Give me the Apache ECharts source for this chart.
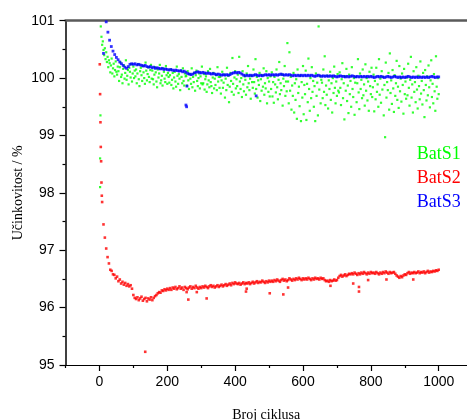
<!DOCTYPE html>
<html><head><meta charset="utf-8">
<script src="https://cdn.jsdelivr.net/npm/echarts@6/dist/echarts.min.js"></script>
<style>html,body{margin:0;padding:0;background:#fff}#c{width:467px;height:420px}</style>
</head><body><div id="c"></div>
<script>
// ---- names & ticks ----
const seriesNames = ['BatS1', 'BatS2', 'BatS3'];
const xMajorTicks = [0, 200, 400, 600, 800, 1000];
const xMinorTicks = [-100, 100, 300, 500, 700, 900];
const xAxisTitle = 'Broj ciklusa';
const yAxisTitle = 'Učinkovitost / %';

// ---- BatS1 (green) ----
const greenEarlyCycles = [2, 2, 3, 4];
const greenEarlyValues = [98.10, 98.60, 99.35, 100.90];
const greenStart = 6, greenStep = 2;
const greenValues = [
100.72,100.58,100.64,100.49,100.40,100.52,100.33,100.45,100.28,100.37,100.19,100.31,100.26,100.10,100.22,100.34,100.08,100.17,100.25,100.03,100.14,100.29,100.11,100.06,100.20,
100.12,99.95,100.19,100.27,100.02,100.06,99.91,100.16,100.22,99.99,100.09,100.31,99.97,100.04,100.14,99.89,100.18,100.11,100.01,100.24,99.94,100.08,100.20,100.00,100.13,
100.03,100.15,99.91,100.08,100.24,99.98,99.86,100.12,100.18,100.05,99.95,100.21,100.10,100.00,99.90,100.27,100.13,99.96,100.07,100.19,100.02,99.93,100.14,100.23,99.99,
100.13,99.98,99.89,100.06,100.19,100.10,99.94,99.84,100.15,100.01,100.08,100.23,99.91,99.96,100.04,99.87,100.17,100.11,99.99,99.93,100.21,100.05,99.90,100.09,100.02,
99.92,100.05,100.15,99.88,99.97,100.09,99.82,100.01,100.11,99.94,99.85,100.20,100.04,99.90,100.07,99.99,99.79,100.13,100.02,99.91,100.17,99.95,99.87,100.08,100.03,
100.04,99.87,100.12,99.96,99.81,100.07,99.99,99.90,100.17,99.84,100.02,99.93,100.09,99.78,100.05,100.13,99.95,99.86,100.00,100.08,99.82,100.03,99.91,100.20,99.89,
99.91,100.07,99.80,99.98,100.03,99.76,99.89,100.12,99.96,99.84,100.16,99.93,99.86,99.74,100.01,100.09,99.82,99.99,99.88,100.05,99.79,100.19,99.94,100.02,99.83,
100.02,99.73,99.96,100.11,99.83,99.92,100.06,99.66,99.99,99.79,100.18,99.88,100.04,99.58,99.85,100.09,99.95,99.76,100.35,99.90,99.71,100.01,100.12,99.82,99.98,
99.86,100.06,99.74,100.37,99.94,99.81,100.00,99.67,100.12,99.89,99.77,100.03,99.97,99.71,100.08,99.84,100.21,99.91,99.79,99.99,99.64,100.04,99.93,99.83,100.15,
99.93,99.73,100.33,99.81,100.02,99.66,99.96,99.88,100.09,99.60,99.98,99.78,100.05,99.85,100.17,99.71,99.91,99.82,100.12,99.56,100.00,99.76,99.94,99.68,100.03,
99.81,100.10,99.68,99.93,99.57,100.02,99.89,99.75,100.15,99.84,99.63,99.97,100.28,99.72,99.91,99.79,100.06,99.52,99.99,99.86,100.21,99.69,99.94,99.77,100.61,
99.94,99.56,100.45,99.78,100.02,99.45,99.87,99.69,100.09,99.40,99.91,99.62,99.98,99.29,100.15,99.74,99.85,99.51,100.04,99.25,99.93,99.66,100.21,99.37,99.88,
99.72,100.13,99.27,99.90,99.58,100.34,99.81,99.43,100.00,99.65,100.19,99.76,99.95,99.50,99.86,99.25,100.08,99.69,99.92,99.35,100.90,99.80,100.03,99.56,99.97,
99.92,99.65,100.15,99.76,100.38,99.53,99.87,99.71,100.04,99.47,99.96,99.81,100.11,99.62,99.91,99.40,100.00,99.74,100.20,99.83,99.56,99.94,99.69,100.07,99.78,
99.75,100.10,99.83,99.53,99.98,100.26,99.65,99.91,99.28,100.03,99.78,100.16,99.60,99.87,99.39,100.06,99.72,99.95,99.50,100.19,99.81,99.67,100.00,99.36,99.92,
100.02,99.58,99.91,100.33,99.75,99.46,100.08,99.81,99.97,99.65,100.15,99.70,99.89,99.52,100.24,99.78,100.00,99.61,99.94,99.43,100.11,99.86,99.72,100.18,99.67,
99.84,100.06,99.42,99.95,99.63,100.18,99.76,99.89,99.50,100.33,99.71,99.99,99.57,100.12,99.80,100.02,99.35,99.88,98.97,100.27,99.66,99.93,99.79,100.09,99.45,
100.43,99.74,99.96,99.55,100.14,99.82,99.41,100.05,99.69,99.91,100.30,99.62,99.85,99.48,100.21,99.77,99.99,99.59,100.08,99.88,99.38,100.16,99.72,99.94,99.64,
100.01,99.70,100.25,99.83,99.52,99.97,100.37,99.66,99.89,99.40,100.12,99.76,99.93,99.58,100.19,99.80,99.47,100.04,99.86,99.63,100.29,99.73,99.95,99.54,100.09,
99.79,99.32,100.14,99.88,99.61,100.03,99.70,100.22,99.84,99.49,99.96,100.31,99.67,99.90,99.56,100.07,99.77,99.43,100.38,99.85,99.64,100.00,99.72
];

// ---- BatS2 (red) ----
const redEarlyCycles = [1, 2, 3, 4, 5, 6, 7];
const redEarlyValues = [100.24, 99.72, 99.23, 98.80, 98.55, 98.18, 97.95];
const redStart = 8, redStep = 4;
const redValues = [
97.84,97.45,97.22,97.03,96.88,96.77,96.66,96.64,96.58,96.57,96.51,96.54,96.46,96.49,96.42,96.45,96.40,96.43,96.38,96.41,96.37,96.39,96.33,96.22,96.17,
96.15,96.18,96.13,96.16,96.19,96.12,96.15,96.17,96.11,96.16,96.14,96.18,96.13,96.17,96.20,96.22,96.25,96.27,96.26,96.30,96.29,96.32,96.30,96.33,96.31,
96.34,96.31,96.35,96.33,96.36,96.32,96.34,96.37,96.33,96.35,96.31,96.36,96.34,96.32,96.35,96.37,96.33,96.36,96.34,96.38,96.35,96.33,96.36,96.34,96.37,
96.35,96.38,96.36,96.34,96.37,96.39,96.36,96.38,96.35,96.37,96.39,96.36,96.38,96.40,96.37,96.39,96.41,96.38,96.40,96.42,96.39,96.43,96.41,96.44,96.42,
96.41,96.43,96.40,96.42,96.44,96.41,96.43,96.42,96.44,96.41,96.43,96.45,96.42,96.44,96.46,96.43,96.45,96.44,96.47,96.45,96.43,96.46,96.44,96.47,96.45,
96.47,96.45,96.48,96.46,96.49,96.47,96.45,96.48,96.50,96.47,96.49,96.46,96.48,96.51,96.49,96.47,96.50,96.48,96.51,96.49,96.52,96.50,96.48,96.51,96.49,
96.51,96.49,96.52,96.50,96.48,96.51,96.49,96.52,96.50,96.51,96.49,96.52,96.50,96.51,96.48,96.46,96.47,96.45,96.48,96.46,96.47,96.49,96.47,96.48,96.52,
96.55,96.57,96.54,96.56,96.58,96.55,96.57,96.59,96.58,96.60,96.58,96.61,96.59,96.57,96.60,96.58,96.61,96.59,96.62,96.60,96.58,96.61,96.59,96.62,96.60,
96.61,96.59,96.62,96.60,96.58,96.61,96.59,96.62,96.60,96.63,96.61,96.59,96.62,96.60,96.61,96.62,96.59,96.56,96.54,96.52,96.55,96.53,96.56,96.58,96.57,
96.60,96.62,96.59,96.61,96.60,96.62,96.60,96.61,96.63,96.60,96.62,96.61,96.63,96.60,96.62,96.64,96.61,96.63,96.62,96.64,96.63,96.65,96.64,96.66
];
const redOutlierCycles = [135, 257, 262, 287, 316, 432, 434, 502, 542, 556, 681, 748, 765, 765, 792, 846, 925];
const redOutlierValues = [95.23, 96.27, 96.14, 96.27, 96.16, 96.28, 96.33, 96.25, 96.23, 96.35, 96.38, 96.42, 96.36, 96.28, 96.48, 96.49, 96.49];

// ---- BatS3 (blue) ----
const blueStart = 20, blueStep = 5;
const blueValues = [
100.98,100.80,100.66,100.55,100.47,100.41,100.36,100.32,100.28,100.25,100.22,100.19,100.17,100.20,100.24,100.25,100.24,100.25,100.23,100.24,
100.23,100.22,100.21,100.22,100.20,100.19,100.20,100.18,100.19,100.17,100.18,100.17,100.16,100.17,100.15,100.16,100.15,100.14,100.15,100.14,
100.13,100.14,100.13,100.12,100.13,100.11,100.12,100.10,100.08,100.07,100.06,100.07,100.09,100.10,100.11,100.10,100.09,100.10,100.09,100.08,
100.09,100.08,100.07,100.08,100.07,100.06,100.07,100.06,100.05,100.06,100.05,100.06,100.05,100.06,100.08,100.09,100.10,100.09,100.10,100.09,
100.07,100.05,100.04,100.05,100.04,100.05,100.04,100.05,100.06,100.05,100.04,100.05,100.04,100.05,100.06,100.05,100.06,100.05,100.06,100.05,
100.06,100.05,100.06,100.07,100.06,100.05,100.06,100.05,100.06,100.05,100.04,100.05,100.04,100.05,100.04,100.05,100.04,100.05,100.04,100.05,
100.04,100.05,100.04,100.03,100.04,100.05,100.04,100.03,100.04,100.03,100.04,100.03,100.04,100.03,100.04,100.03,100.02,100.03,100.04,100.03,
100.03,100.02,100.03,100.02,100.03,100.04,100.03,100.02,100.03,100.02,100.03,100.02,100.03,100.02,100.03,100.02,100.03,100.02,100.01,100.02,
100.03,100.02,100.03,100.02,100.01,100.02,100.03,100.02,100.01,100.02,100.03,100.02,100.01,100.02,100.01,100.02,100.01,100.02,100.03,100.02,
100.01,100.02,100.01,100.02,100.01,100.02,100.01,100.02,100.01,100.02,100.01,100.02,100.03,100.02,100.01,100.02,100.02
];
const blueOutlierCycles = [10, 12, 255, 257, 258, 462];
const blueOutlierValues = [101.30, 100.43, 99.53, 99.50, 99.86, 99.69];

const colors = ['#00ff00', '#ff0000', '#0000ff'];

// ---- build ----
function stepped(start, step, vals) { return vals.map((v, i) => [start + i * step, v]); }
function paired(cs, vs) { return cs.map((c, i) => [c, vs[i]]); }

const greenData = paired(greenEarlyCycles, greenEarlyValues).concat(stepped(greenStart, greenStep, greenValues));
const redData = paired(redEarlyCycles, redEarlyValues).concat(stepped(redStart, redStep, redValues), paired(redOutlierCycles, redOutlierValues));
const blueData = stepped(blueStart, blueStep, blueValues).concat(paired(blueOutlierCycles, blueOutlierValues));

const sansFont = '"Liberation Sans", Arial, sans-serif';
const serifFont = '"Liberation Serif", "Times New Roman", serif';

const chart = echarts.init(document.getElementById('c'), null, { renderer: 'canvas' });
const xBase = { type: 'value', min: -100, max: 1083.4, splitLine: { show: false } };
chart.setOption({
  animation: false,
  backgroundColor: '#fff',
  grid: { left: 65.5, right: 0, top: 20.7, bottom: 55, containLabel: false, outerBoundsMode: 'none' },
  xAxis: [
    Object.assign({}, xBase, {
      position: 'bottom', interval: 100,
      name: xAxisTitle, nameLocation: 'middle', nameGap: 43.5, nameMoveOverlap: false,
      nameTextStyle: { fontFamily: serifFont, fontSize: 14, color: '#000' },
      axisLine: { show: true, onZero: false, lineStyle: { color: '#000', width: 1.2 } },
      axisTick: { show: true, length: 6, customValues: xMajorTicks, lineStyle: { color: '#000', width: 1.2 } },
      axisLabel: { customValues: xMajorTicks, margin: 10, fontFamily: sansFont, fontSize: 14, color: '#000',
                   formatter: v => String(v) }
    }),
    Object.assign({}, xBase, {
      position: 'bottom', interval: 100,
      axisLine: { show: false },
      axisTick: { show: true, length: 3, customValues: xMinorTicks, lineStyle: { color: '#000', width: 1.2 } },
      axisLabel: { show: false }
    }),
    Object.assign({}, xBase, {
      position: 'top', interval: 100,
      axisLine: { show: true, onZero: false, lineStyle: { color: '#5a5a5a', width: 2.6 } },
      axisTick: { show: false }, axisLabel: { show: false }
    })
  ],
  yAxis: {
    type: 'value', min: 95, max: 101, interval: 1,
    name: yAxisTitle, nameLocation: 'middle', nameGap: 40, nameMoveOverlap: false,
    nameTextStyle: { fontFamily: serifFont, fontSize: 14, color: '#000' },
    splitLine: { show: false },
    axisLine: { show: true, onZero: false, lineStyle: { color: '#000', width: 1.5 } },
    axisTick: { show: true, length: 6, lineStyle: { color: '#000', width: 1.2 } },
    minorTick: { show: true, splitNumber: 2, length: 3, lineStyle: { color: '#000', width: 1.2 } },
    axisLabel: { margin: 11, fontFamily: sansFont, fontSize: 14, color: '#000' }
  },
  legend: {
    orient: 'vertical', left: 406.7, top: 140, itemGap: 6,
    itemWidth: 0, itemHeight: 0, selectedMode: false,
    textStyle: { fontFamily: serifFont, fontSize: 18 },
    data: seriesNames.map((n, i) => ({ name: n, icon: 'rect', textStyle: { color: colors[i] } }))
  },
  series: [
    { type: 'scatter', name: seriesNames[0], data: greenData, symbol: 'rect', symbolSize: 2.2, itemStyle: { color: colors[0] }, silent: true },
    { type: 'scatter', name: seriesNames[1], data: redData, symbol: 'rect', symbolSize: 2.6, itemStyle: { color: colors[1] }, silent: true },
    { type: 'scatter', name: seriesNames[2], data: blueData, symbol: 'rect', symbolSize: 2.8, itemStyle: { color: colors[2] }, silent: true }
  ]
});
</script>
</body></html>
